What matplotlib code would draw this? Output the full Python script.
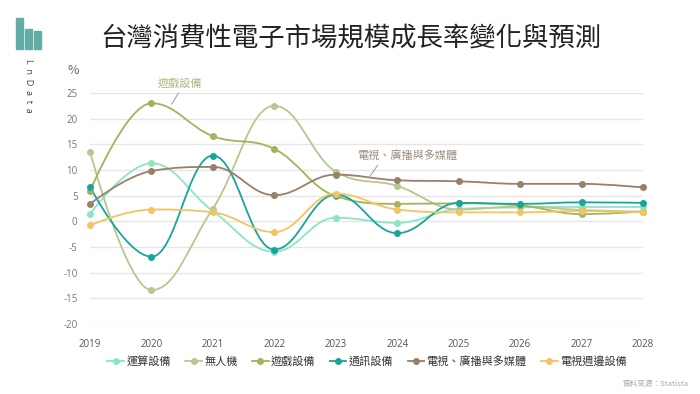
import matplotlib
matplotlib.use('Agg')
import matplotlib.pyplot as plt
from matplotlib.path import Path
from matplotlib.patches import PathPatch, Rectangle
from matplotlib.lines import Line2D

plt.rcParams['font.family'] = ['Noto Sans CJK TC', 'DejaVu Sans']

# Data (%)
years = [2019, 2020, 2021, 2022, 2023, 2024, 2025, 2026, 2027, 2028]
computing = [1.4, 11.3, 2.0, -5.9, 0.7, -0.3, 2.4, 2.7, 2.8, 2.8]
drones = [13.6, -13.4, 2.5, 22.5, 9.7, 6.9, 2.3, 2.9, 2.2, 1.9]
gaming = [5.9, 23.0, 16.6, 14.1, 4.9, 3.4, 3.5, 3.1, 1.4, 1.9]
comms = [6.7, -6.9, 12.8, -5.5, 5.2, -2.3, 3.6, 3.4, 3.7, 3.6]
tv_media = [3.4, 9.8, 10.6, 5.1, 9.1, 8.0, 7.8, 7.3, 7.3, 6.6]
tv_periph = [-0.8, 2.3, 1.75, -2.1, 5.4, 2.3, 1.75, 1.75, 2.0, 1.75]

series_names = ['運算設備', '無人機', '遊戲設備', '通訊設備', '電視、廣播與多媒體', '電視週邊設備']
series_values = [computing, drones, gaming, comms, tv_media, tv_periph]
colors = ['#8ae6c3', '#b6c78f', '#a4b25e', '#18a59a', '#9a7f69', '#f2c462']

y_ticks = list(range(-20, 30, 5))


def spline_path(xs, ys, smoothing=1.5):
    """Highcharts-like spline: cubic bezier with control points per point."""
    n = len(xs)
    left = [None] * n
    right = [None] * n
    d = smoothing + 1
    for i in range(1, n - 1):
        x, y = xs[i], ys[i]
        lx, ly = xs[i - 1], ys[i - 1]
        nx, ny = xs[i + 1], ys[i + 1]
        lcx = (smoothing * x + lx) / d
        lcy = (smoothing * y + ly) / d
        rcx = (smoothing * x + nx) / d
        rcy = (smoothing * y + ny) / d
        corr = 0
        if rcx != lcx:
            corr = (rcy - lcy) * (rcx - x) / (rcx - lcx) + y - rcy
        lcy += corr
        rcy += corr
        if lcy > ly and lcy > y:
            lcy = max(ly, y)
            rcy = 2 * y - lcy
        elif lcy < ly and lcy < y:
            lcy = min(ly, y)
            rcy = 2 * y - lcy
        if rcy > ny and rcy > y:
            rcy = max(ny, y)
            lcy = 2 * y - rcy
        elif rcy < ny and rcy < y:
            rcy = min(ny, y)
            lcy = 2 * y - rcy
        left[i] = (lcx, lcy)
        right[i] = (rcx, rcy)
    verts = [(xs[0], ys[0])]
    codes = [Path.MOVETO]
    for i in range(1, n):
        c1 = right[i - 1] or (xs[i - 1], ys[i - 1])
        c2 = left[i] or (xs[i], ys[i])
        verts += [c1, c2, (xs[i], ys[i])]
        codes += [Path.CURVE4] * 3
    return Path(verts, codes)


fig = plt.figure(figsize=(7, 3.94), dpi=100)
ax = fig.add_axes([90 / 700, 1 - 324 / 394, 553 / 700, 231 / 394])

for name, vals, c in zip(series_names, series_values, colors):
    ax.add_patch(PathPatch(spline_path(years, vals), fill=False, edgecolor=c,
                           lw=1.3, clip_on=False, zorder=3))
    ax.plot(years, vals, 'o', color=c, ms=4, clip_on=False, zorder=4)

ax.set_xlim(2019, 2028)
ax.set_ylim(-20, 25)
ax.set_xticks(years)
ax.set_yticks(y_ticks)
ax.set_yticklabels([str(t) for t in y_ticks])
for s in ax.spines.values():
    s.set_visible(False)
ax.grid(axis='y', color='#e6e6e6', lw=1)
ax.set_axisbelow(True)
ax.tick_params(length=0, labelsize=7, colors='#777777')
ax.tick_params(axis='x', pad=11, colors='#555555')
ax.tick_params(axis='y', pad=9)
for lab in ax.get_xticklabels() + ax.get_yticklabels():
    lab.set_family(['Open Sans', 'DejaVu Sans'])

# data labels with leader lines
ax.plot([2020.33, 2020.44], [22.85, 25.0], color='#999999', lw=0.7,
        clip_on=False, zorder=5)
ax.text(2020.46, 26.9, '遊戲設備', ha='center', va='center', fontsize=8,
        color='#a9b87d')
ax.plot([2023.56, 2023.68], [8.83, 10.9], color='#999999', lw=0.7,
        clip_on=False, zorder=5)
ax.text(2024.16, 12.9, '電視、廣播與多媒體', ha='center', va='center',
        fontsize=8, color='#9a8d80')

# title, unit, logo
fig.text(351 / 700, 1 - 38 / 394, '台灣消費性電子市場規模成長率變化與預測',
         ha='center', va='center', fontsize=19, weight='medium', color='#222222')
fig.text(73 / 700, 1 - 70 / 394, '%', ha='center', va='center', fontsize=9,
         color='#666666')
logo_color = '#62aea6'
for x0, x1, ytop in [(15.7, 22.7, 18.3), (25, 31.7, 29), (33.7, 40.7, 30.7)]:
    fig.patches.append(Rectangle((x0 / 700, 1 - 49.3 / 394), (x1 - x0) / 700,
                                 (49.3 - ytop) / 394, transform=fig.transFigure,
                                 color=logo_color, zorder=5))
fig.text(28 / 700, 1 - 86 / 394, 'L  n  D  a  t  a', rotation=270, ha='center',
         va='center', fontsize=6.5, color='#444444',
         family=['Open Sans', 'DejaVu Sans'])

# legend
handles = [Line2D([], [], color=c, lw=1.3, marker='o', ms=4) for c in colors]
fig.legend(handles, series_names, loc='center', bbox_to_anchor=(367 / 700, 1 - 361 / 394),
           ncol=6, frameon=False, fontsize=8, handlelength=1.5, handletextpad=0.2,
           columnspacing=1.3, labelcolor='#333333')

fig.text(689 / 700, 1 - 384 / 394, '資料來源：Statista', ha='right', va='center',
         fontsize=5.5, color='#aaaaaa')

fig.savefig('out.png', dpi=100)
